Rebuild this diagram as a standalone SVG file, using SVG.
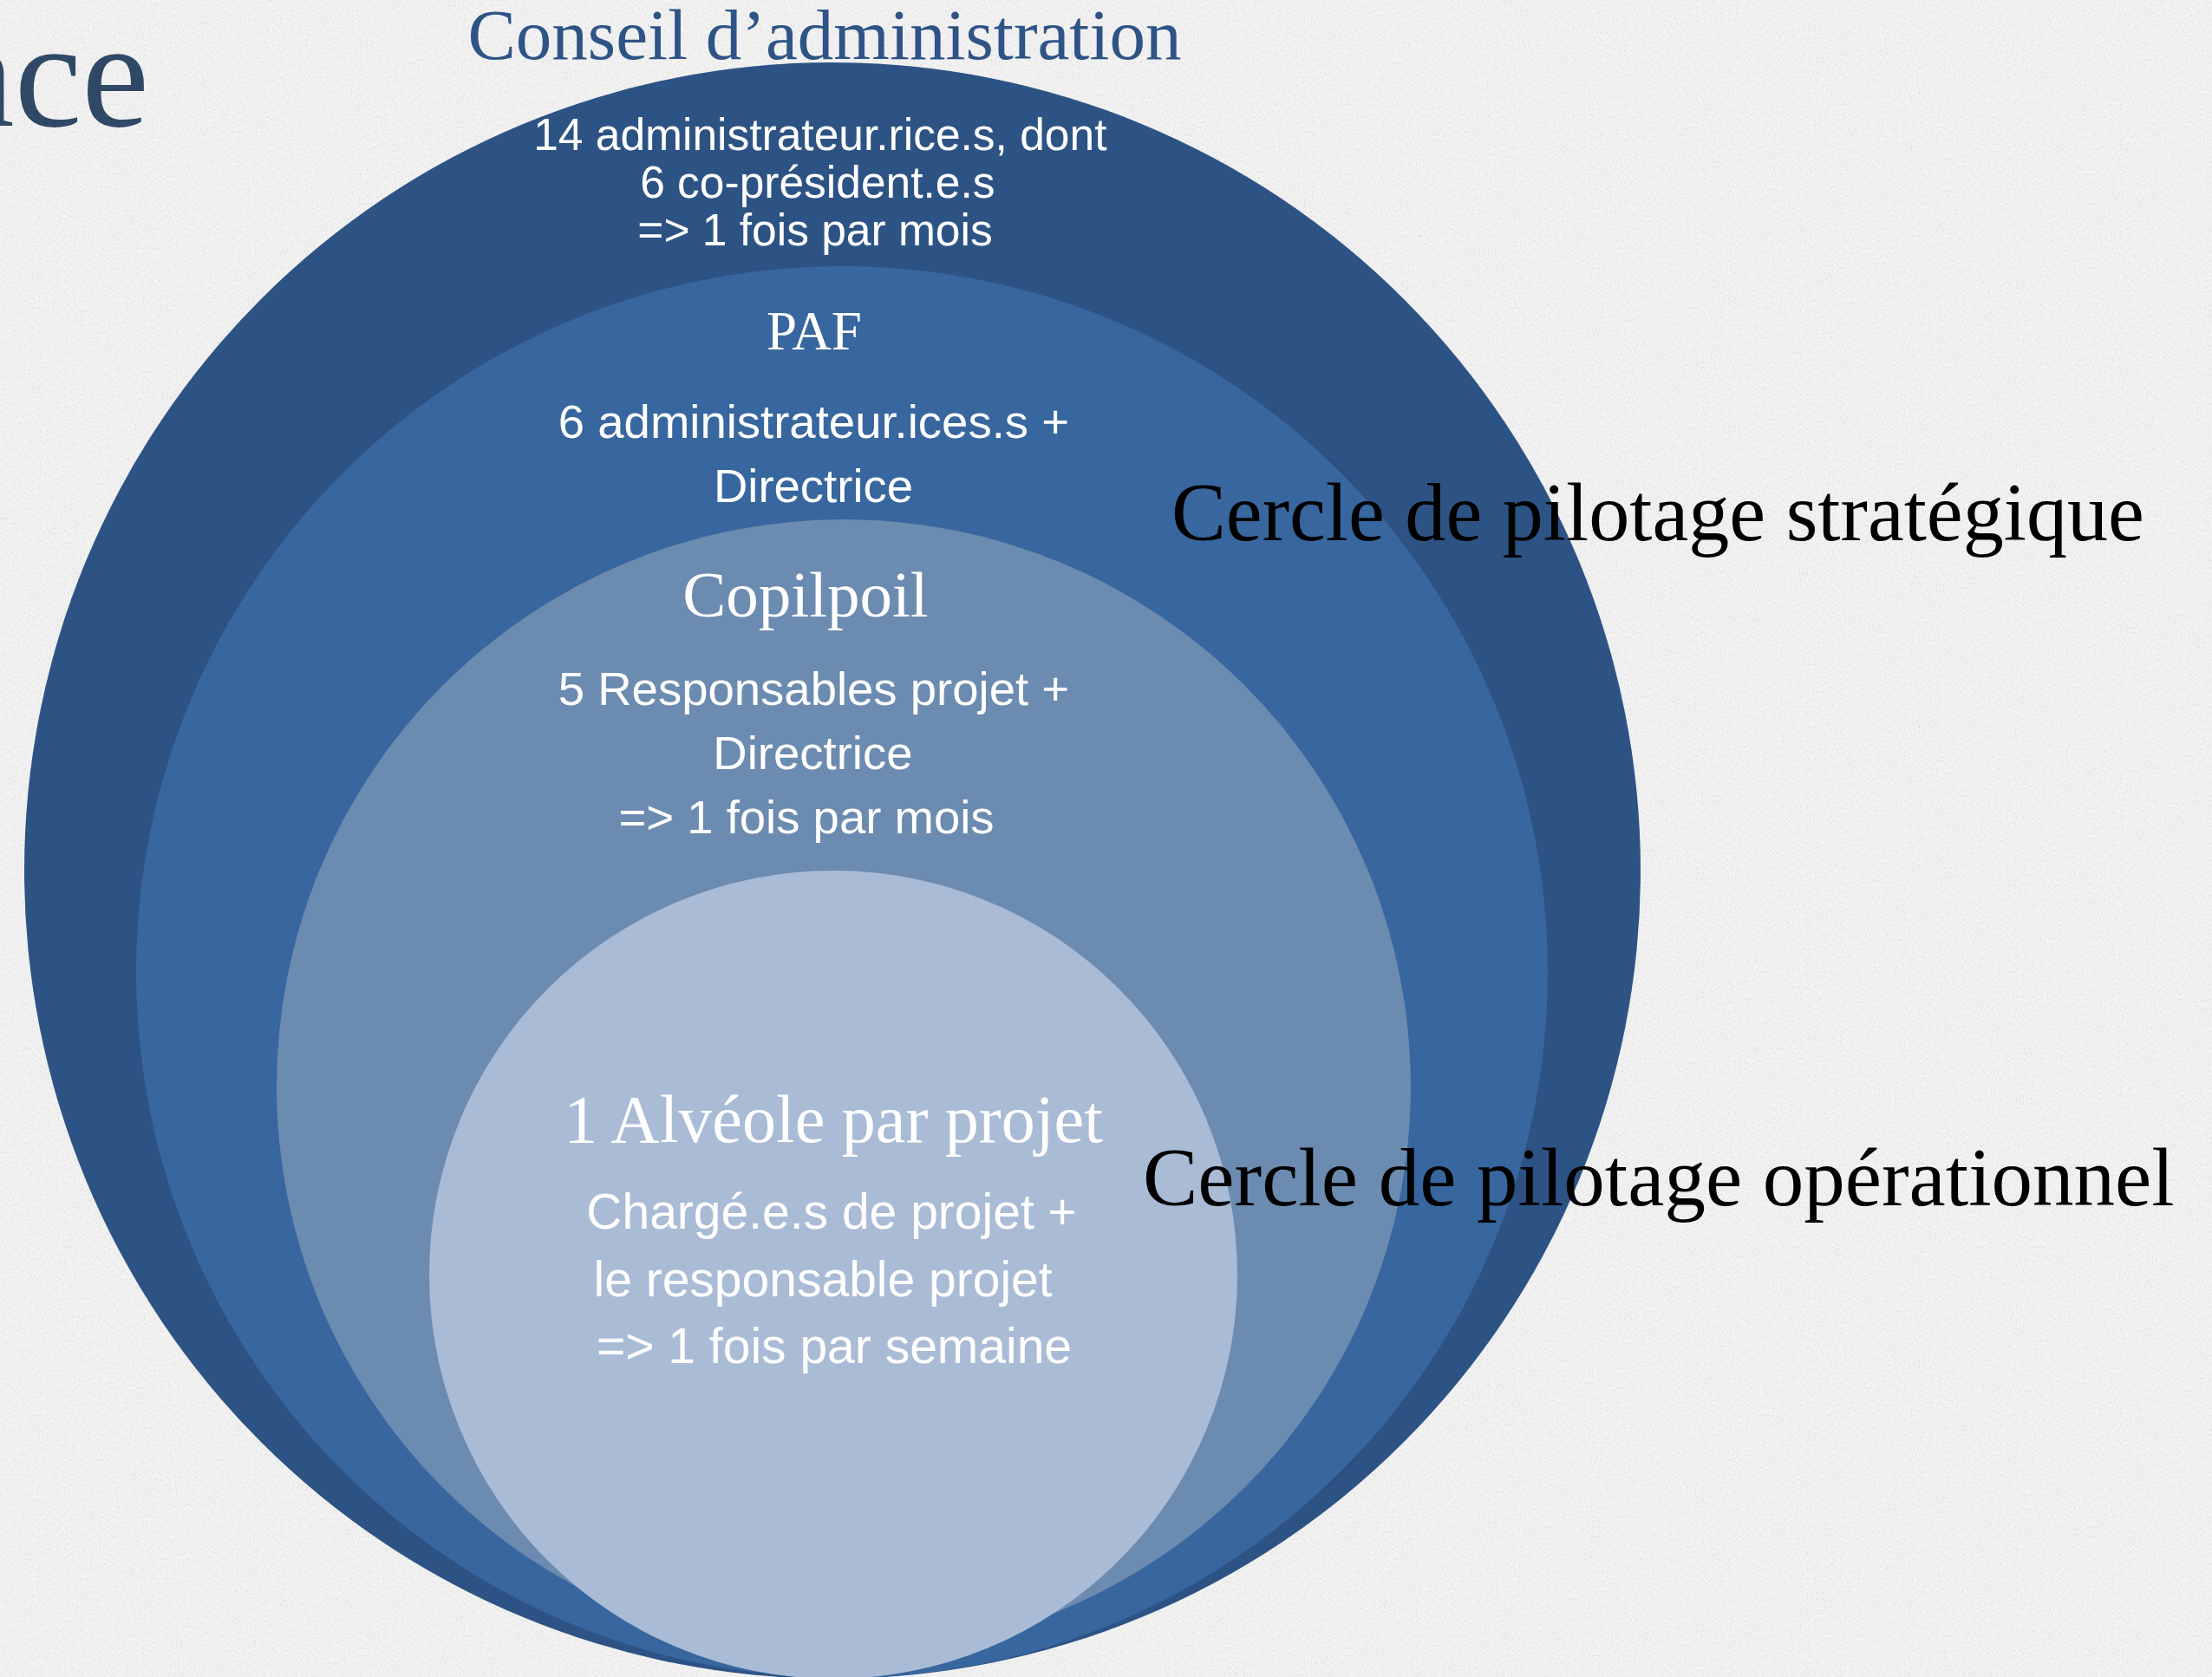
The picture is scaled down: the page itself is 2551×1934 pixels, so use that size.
<svg xmlns="http://www.w3.org/2000/svg" width="2551" height="1934" viewBox="0 0 2551 1934">
  <defs>
    <filter id="paper" x="0" y="0" width="100%" height="100%">
      <feTurbulence type="fractalNoise" baseFrequency="0.9 0.35" numOctaves="3" seed="7" result="n"/>
      <feColorMatrix in="n" type="matrix" values="0 0 0 0 0.45  0 0 0 0 0.45  0 0 0 0 0.45  0 0 0 -2.2 1.25" />
    </filter>
    <style>
      .serif { font-family: "Liberation Serif", "Times New Roman", serif; }
      .sans { font-family: "Liberation Sans", Arial, sans-serif; fill: #ffffff; text-anchor: middle; }
      .title { fill: #ffffff; text-anchor: middle; }
      .side { fill: #000000; }
    </style>
  </defs>

  <rect x="0" y="0" width="2551" height="1934" fill="#f3f3f3"/>
  <rect x="0" y="0" width="2551" height="1934" filter="url(#paper)" opacity="0.3"/>

  <text class="serif" x="172" y="145" font-size="175" fill="#2f4866" text-anchor="end">nce</text>

  <g id="conseil">
    <circle cx="960" cy="1004" r="932" fill="#2d5385"/>
    <text class="serif" x="951" y="68" font-size="83" fill="#2e5486" text-anchor="middle">Conseil d’administration</text>
    <text class="sans" font-size="51.5">
      <tspan x="953" y="173">14 administrateur.rice.s, dont</tspan>
      <tspan x="950" y="228">6 co-président.e.s</tspan>
      <tspan x="940" y="283">=&gt; 1 fois par mois</tspan>
    </text>
  </g>

  <g id="paf">
    <circle cx="971" cy="1121" r="814" fill="#38669e"/>
    <text class="serif title" x="939" y="403" font-size="63">PAF</text>
    <text class="sans" font-size="54.5">
      <tspan x="946" y="505">6 administrateur.ices.s +</tspan>
      <tspan x="938" y="579">Directrice</tspan>
    </text>
  </g>

  <g id="copilpoil">
    <circle cx="973" cy="1253" r="654" fill="#6c8bb0"/>
    <text class="serif title" x="929" y="711" font-size="75">Copilpoil</text>
    <text class="sans" font-size="54.5">
      <tspan x="946" y="813">5 Responsables projet +</tspan>
      <tspan x="945" y="887">Directrice</tspan>
      <tspan x="930" y="961">=&gt; 1 fois par mois</tspan>
    </text>
  </g>

  <g id="alveole">
    <circle cx="961" cy="1470" r="466" fill="#a9bbd5"/>
    <text class="serif title" x="961" y="1317" font-size="78">1 Alvéole par projet</text>
    <text class="sans" font-size="57">
      <tspan x="967" y="1417">Chargé.e.s de projet +</tspan>
      <tspan x="957" y="1495">le responsable projet</tspan>
      <tspan x="962" y="1572">=&gt; 1 fois par semaine</tspan>
    </text>
  </g>

  <g id="labels">
    <text class="serif side" x="1351" y="623" font-size="94.2">Cercle de pilotage stratégique</text>
    <text class="serif side" x="1318" y="1390" font-size="95">Cercle de pilotage opérationnel</text>
  </g>

  <g id="connectors"/>
</svg>
